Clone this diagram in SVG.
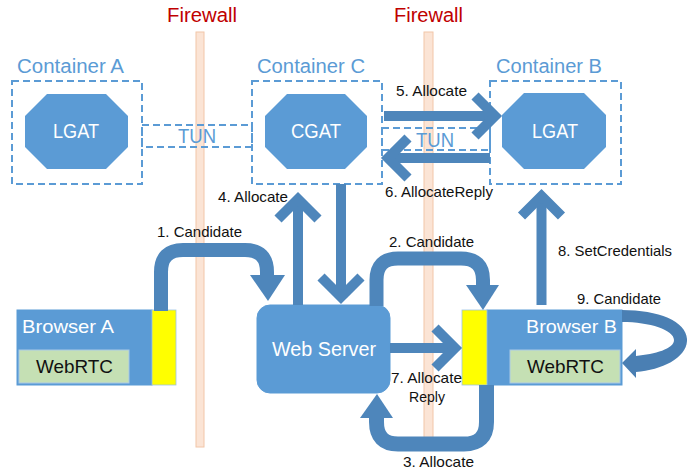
<svg xmlns="http://www.w3.org/2000/svg" width="687" height="473" viewBox="0 0 687 473">
<defs>
<style>
text{font-family:"Liberation Sans",Arial,sans-serif}
.fw{fill:#fbe4d5;stroke:#f2c6a8;stroke-width:1}
.fwt{fill:#c00000;font-size:20px}
.ct{fill:none;stroke:#5b9bd5;stroke-width:2;stroke-dasharray:7 4}
.ctl{fill:#5b9bd5;font-size:20px}
.oct{fill:#5b9bd5}
.wt{fill:#ffffff;font-size:20px}
.lbl{fill:#111111;font-size:15px}
.blk{fill:#111111;font-size:19px}
.sh{fill:none;stroke:#4e86bb;stroke-width:10}
.bk{fill:none;stroke:#4e86bb;stroke-width:14;stroke-linejoin:round}
.hd{fill:#4e86bb}
.box{fill:#5b9bd5;stroke:#5b9bd5;stroke-width:1}
.yel{fill:#ffff00;stroke:#9dc3e6;stroke-width:0.8}
.grn{fill:#c5e0b4;stroke:#a9c9e8;stroke-width:1}
</style>
<marker id="chev" markerUnits="userSpaceOnUse" markerWidth="60" markerHeight="60" refX="0" refY="0" orient="auto" overflow="visible" viewBox="-30 -30 60 60">
<path d="M-20,-20 L0,0 L-20,20" fill="none" stroke="#4e86bb" stroke-width="10" stroke-linejoin="miter"/>
</marker>
</defs>
<rect width="687" height="473" fill="#ffffff"/>

<g id="firewalls">
<rect class="fw" x="196" y="32" width="8" height="415"/>
<rect class="fw" x="424" y="32" width="9" height="408"/>
<text class="fwt" x="167" y="22" textLength="70" lengthAdjust="spacingAndGlyphs">Firewall</text>
<text class="fwt" x="394" y="22" textLength="69" lengthAdjust="spacingAndGlyphs">Firewall</text>
</g>

<g id="tunnels">
<rect class="ct" x="142" y="125" width="110" height="22"/>
<text class="ctl" x="178" y="143" textLength="38" lengthAdjust="spacingAndGlyphs">TUN</text>
<rect class="ct" x="382" y="128" width="108" height="22"/>
<text class="ctl" x="416" y="147" textLength="38" lengthAdjust="spacingAndGlyphs">TUN</text>
</g>

<g id="containerA">
<rect class="ct" x="12" y="81" width="130" height="103"/>
<text class="ctl" x="17" y="73" textLength="107" lengthAdjust="spacingAndGlyphs">Container A</text>
<polygon class="oct" points="47,94 106,94 128,116 128,147 106,169 47,169 25,147 25,116"/>
<text class="wt" x="53" y="138" textLength="46" lengthAdjust="spacingAndGlyphs">LGAT</text>
</g>

<g id="containerC">
<rect class="ct" x="252" y="81" width="130" height="103"/>
<text class="ctl" x="257" y="73" textLength="108" lengthAdjust="spacingAndGlyphs">Container C</text>
<polygon class="oct" points="287,94 345,94 367,116 367,147 345,169 287,169 265,147 265,116"/>
<text class="wt" x="291" y="138" textLength="50" lengthAdjust="spacingAndGlyphs">CGAT</text>
</g>

<g id="containerB">
<rect class="ct" x="490" y="81" width="131" height="103"/>
<text class="ctl" x="496" y="73" textLength="106" lengthAdjust="spacingAndGlyphs">Container B</text>
<polygon class="oct" points="524,93 584,93 606,115 606,147 584,169 524,169 502,147 502,115"/>
<text class="wt" x="532" y="138" textLength="46" lengthAdjust="spacingAndGlyphs">LGAT</text>
</g>

<g id="webServer">
<rect class="box" x="257" y="305" width="133" height="88" rx="13" ry="13"/>
<text class="wt" x="272" y="356" textLength="104" lengthAdjust="spacingAndGlyphs">Web Server</text>
</g>

<g id="browserA">
<rect class="box" x="17" y="310" width="135" height="75"/>
<rect class="yel" x="152" y="310" width="24" height="75"/>
<text class="wt" x="22" y="333" style="font-size:19px" textLength="92" lengthAdjust="spacingAndGlyphs">Browser A</text>
<rect class="grn" x="19" y="350" width="110" height="33"/>
<text class="blk" x="36" y="373" textLength="77" lengthAdjust="spacingAndGlyphs">WebRTC</text>
</g>

<g id="browserB">
<rect class="box" x="487" y="310" width="135" height="75"/>
<rect class="yel" x="462" y="310" width="25" height="75"/>
<text class="wt" x="526" y="333" style="font-size:19px" textLength="91" lengthAdjust="spacingAndGlyphs">Browser B</text>
<rect class="grn" x="510" y="350" width="110" height="33"/>
<text class="blk" x="527" y="373" textLength="77" lengthAdjust="spacingAndGlyphs">WebRTC</text>
</g>

<g id="connectors">
<!-- 1. Candidate -->
<path class="bk" d="M161,311 V272 Q161,250 183,250 H245 Q267,250 267,272 V277"/>
<polygon class="hd" points="250,275 285,275 268,301"/>
<text class="lbl" x="157" y="237" textLength="85" lengthAdjust="spacingAndGlyphs">1. Candidate</text>
<!-- 2. Candidate -->
<path class="bk" d="M376.5,306 V280 Q376.5,258.5 398,258.5 H461 Q483,258.5 483,280 V287"/>
<polygon class="hd" points="466,285 499,285 483,310"/>
<text class="lbl" x="389" y="247" textLength="85" lengthAdjust="spacingAndGlyphs">2. Candidate</text>
<!-- 3. Allocate -->
<path class="bk" style="stroke-width:15" d="M486.5,385 V422 Q486.5,444 464,444 H398 Q376.5,444 376.5,422 V416"/>
<polygon class="hd" points="360,418 393,418 377,394"/>
<text class="lbl" x="403" y="467" textLength="71" lengthAdjust="spacingAndGlyphs">3. Allocate</text>
<!-- 4. Allocate -->
<line class="sh" x1="298" y1="305" x2="298" y2="199" marker-end="url(#chev)"/>
<text class="lbl" x="218" y="202" textLength="70" lengthAdjust="spacingAndGlyphs">4. Allocate</text>
<!-- down arrow CGAT to Web Server -->
<line class="sh" x1="341" y1="184" x2="341" y2="297" marker-end="url(#chev)"/>
<!-- 5. Allocate -->
<line class="sh" x1="384" y1="116" x2="495" y2="116" marker-end="url(#chev)"/>
<text class="lbl" x="396" y="96" textLength="71" lengthAdjust="spacingAndGlyphs">5. Allocate</text>
<!-- 6. AllocateReply -->
<line class="sh" x1="490" y1="158" x2="388" y2="158" marker-end="url(#chev)"/>
<text class="lbl" x="385" y="197" textLength="108" lengthAdjust="spacingAndGlyphs">6. AllocateReply</text>
<!-- 7. Allocate Reply -->
<line class="sh" x1="390" y1="348" x2="455" y2="348" marker-end="url(#chev)"/>
<text class="lbl" x="391" y="383" textLength="71" lengthAdjust="spacingAndGlyphs">7. Allocate</text>
<text class="lbl" x="409" y="402" textLength="36" lengthAdjust="spacingAndGlyphs">Reply</text>
<!-- 8. SetCredentials -->
<line class="sh" x1="541.5" y1="305" x2="541.5" y2="196" marker-end="url(#chev)"/>
<text class="lbl" x="558" y="256" textLength="114" lengthAdjust="spacingAndGlyphs">8. SetCredentials</text>
<!-- 9. Candidate -->
<path fill="#4a7fb3" d="M622,310 C660,310 688,322 687,341 C686,358 662,370 636,372 L636,378 L622,363 L636,349 L636,356 C655,354 674,349 674,340 C674,330 650,322 622,322 Z"/>
<text class="lbl" x="577" y="304" textLength="84" lengthAdjust="spacingAndGlyphs">9. Candidate</text>
</g>
</svg>
